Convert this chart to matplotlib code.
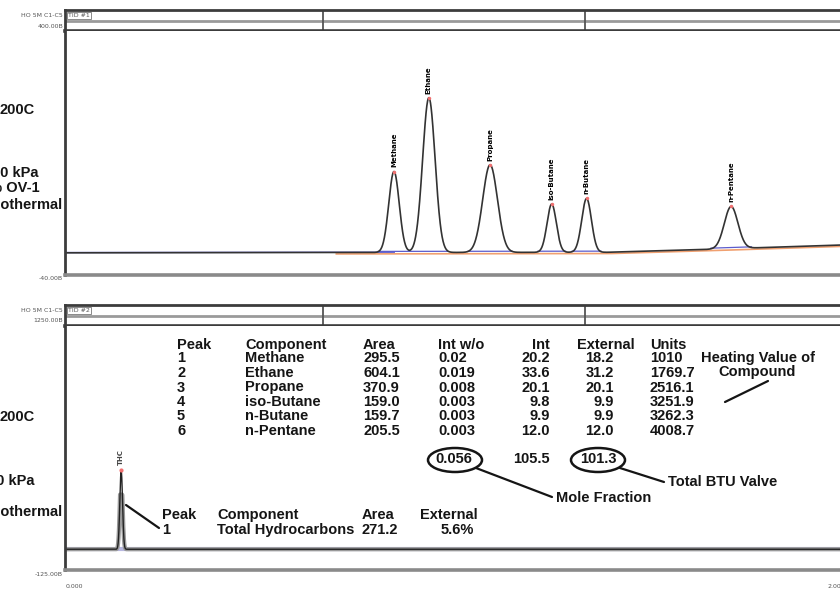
import numpy as np
import matplotlib
matplotlib.use("Agg")
from matplotlib import pyplot as plt
from matplotlib.lines import Line2D
from matplotlib.patches import Ellipse

W, H = 840, 590

# chromatogram #1 (C1-C5 peaks)
peak_names = ['Methane', 'Ethane', 'Propane', 'iso-Butane', 'n-Butane', 'n-Pentane']
peak_times = [0.849, 0.939, 1.097, 1.256, 1.346, 1.719]      # min
peak_heights = [146, 279, 158, 87, 97, 76]
peak_sigmas = [0.0135, 0.0160, 0.0190, 0.0120, 0.0125, 0.0175]
drift_t = [0.0, 1.40, 1.65, 2.0]
drift_level = [0, 1, 6, 14]

# chromatogram #2 (total hydrocarbons)
thc_time = 0.145
thc_height = 444
thc_sigma = 0.0035
thc_level = -8

# peak report
peak_ids = [1, 2, 3, 4, 5, 6]
areas = [295.5, 604.1, 370.9, 159.0, 159.7, 205.5]
int_wo = [0.02, 0.019, 0.008, 0.003, 0.003, 0.003]
int_vals = [20.2, 33.6, 20.1, 9.8, 9.9, 12.0]
external = [18.2, 31.2, 20.1, 9.9, 9.9, 12.0]
units = [1010, 1769.7, 2516.1, 3251.9, 3262.3, 4008.7]
mole_fraction = 0.056
int_total = 105.5
btu_total = 101.3
thc_area = 271.2
thc_external = '5.6%'

FONT = dict(family=['Liberation Sans', 'DejaVu Sans'], weight='bold', color='#151515')


def fx(x):
    return x / W


def fy(y):
    return 1 - y / H


def put(x, y, s, size=10.5, ha='left', **kw):
    opts = dict(FONT)
    opts.update(kw)
    fig.text(fx(x), fy(y), s, fontsize=size, ha=ha, va='center', **opts)


def line(x1, y1, x2, y2, lw=1.6):
    fig.add_artist(Line2D([fx(x1), fx(x2)], [fy(y1), fy(y2)], transform=fig.transFigure,
                          color='#151515', lw=lw, solid_capstyle='round'))


def panel(off, tid, ymin, ymax):
    # header strip
    hax = fig.add_axes([fx(65), fy(31 + off), 1 - fx(65), 21 / H])
    hax.set_xlim(0, 2.0)
    hax.set_ylim(0, 1)
    hax.set_xticks([])
    hax.set_yticks([])
    for side in ('top', 'bottom', 'left'):
        hax.spines[side].set_color('#3c3c3c')
        hax.spines[side].set_linewidth(2)
    hax.spines['bottom'].set_linewidth(2.6)
    hax.spines['right'].set_visible(False)
    hax.axhline(0.48, color='#9a9a9a', lw=2)
    for xv in (0.666, 1.342):
        hax.axvline(xv, color='#555555', lw=1.3)
    hax.text(0.004, 0.74, tid, transform=hax.transAxes, fontsize=4.5, color='#555555',
             va='center', bbox=dict(boxstyle='square,pad=0.15', fc='white', ec='#777777', lw=0.6))

    ax = fig.add_axes([fx(65), fy(275 + off), 1 - fx(65), (275 - 31) / H])
    ax.set_xlim(0, 2.0)
    ax.set_ylim(ymin, ymax)
    ax.set_xticks([])
    ax.set_yticks([])
    ax.spines['top'].set_visible(False)
    ax.spines['right'].set_visible(False)
    ax.spines['left'].set_color('#3c3c3c')
    ax.spines['left'].set_linewidth(2)
    ax.spines['bottom'].set_color('#8a8a8a')
    ax.spines['bottom'].set_linewidth(2.6)

    small = dict(fontsize=4.5, color='#555555', ha='right', va='center')
    fig.text(fx(63), fy(15.5 + off), 'HO 5M C1-C5', **small)
    fig.text(fx(63), fy(26 + off), '%.2fB' % ymax, **small)
    fig.text(fx(63), fy(279 + off), '%.2fB' % ymin, **small)
    return ax


fig = plt.figure(figsize=(W / 100, H / 100), dpi=100)
t = np.linspace(0, 2.0, 4000)

# ---- top chromatogram
ax1 = panel(0, 'TID #1', -40, 400)
base = np.interp(t, drift_t, drift_level)
trace = base.copy()
for tr, h, s in zip(peak_times, peak_heights, peak_sigmas):
    trace += h * np.exp(-0.5 * ((t - tr) / s) ** 2)
ax1.plot(t[t > 0.7], base[t > 0.7] - 2.5, color='#f0a070', lw=1.2)
ax1.plot(t[t < 0.85], base[t < 0.85] + 0.5, color='#5c5ccc', lw=1.0)
for tr, s in zip(peak_times, peak_sigmas):
    m = (t > tr - 3 * s) & (t < tr + 3 * s)
    ax1.plot(t[m], base[m] + 2, color='#5c5ccc', lw=0.9)
ax1.plot(t, trace, color='#333333', lw=1.2)
for name, tr, h in zip(peak_names, peak_times, peak_heights):
    top = h + np.interp(tr, drift_t, drift_level)
    ax1.plot(tr, top, 'o', ms=2.5, color='#f07070', mec='none')
    ax1.annotate(name, (tr, top), xytext=(0, 3), textcoords='offset points',
                 rotation=90, ha='center', va='bottom', fontsize=5, fontweight='bold')

# ---- bottom chromatogram
ax2 = panel(295, 'TID #2', -125, 1250)
thc = thc_level + thc_height * np.exp(-0.5 * ((t - thc_time) / thc_sigma) ** 2)
ax2.axhline(thc_level, color='#b8b8e0', lw=3)
ax2.plot(t, np.minimum(thc, 300), color='#9a9a9a', lw=3)
ax2.plot(t, thc, color='#222222', lw=1.0)
ax2.plot(thc_time, thc_level + thc_height, 'o', ms=3, color='#f07070', mec='none')
ax2.annotate('THC', (thc_time, thc_level + thc_height), xytext=(0, 4), textcoords='offset points',
             rotation=90, ha='center', va='bottom', fontsize=5, fontweight='bold', color='#444444')
fig.text(fx(66), fy(587), '0.000', fontsize=4.5, color='#555555', va='center')
fig.text(fx(827), fy(587), '2.000', fontsize=4.5, color='#555555', va='center')

# ---- method notes (cut at the left edge)
put(35, 110, '200C', ha='right')
put(38, 173, '50 kPa', ha='right')
put(40, 188, '5% OV-1', ha='right')
put(62, 205, 'Isothermal', ha='right')
put(35, 417, '200C', ha='right')
put(35, 481, '50 kPa', ha='right')
put(62, 512, 'Isothermal', ha='right')

# ---- peak report table
hdr_y = 345
put(177, hdr_y, 'Peak')
put(245, hdr_y, 'Component')
put(363, hdr_y, 'Area')
put(438, hdr_y, 'Int w/o')
put(550, hdr_y, 'Int', ha='right')
put(577, hdr_y, 'External')
put(650, hdr_y, 'Units')
for i in range(len(peak_ids)):
    y = 358.5 + i * 14.5
    put(177, y, str(peak_ids[i]))
    put(245, y, peak_names[i])
    put(363, y, str(areas[i]))
    put(438, y, str(int_wo[i]))
    put(550, y, str(int_vals[i]), ha='right')
    put(614, y, str(external[i]), ha='right')
    put(650, y, str(units[i]))
put(435, 459, str(mole_fraction))
put(550, 459, str(int_total), ha='right')
put(580, 459, str(btu_total))
for cx in (455, 598):
    fig.add_artist(Ellipse((fx(cx), fy(460)), 54 / W, 24 / H, transform=fig.transFigure,
                           fill=False, ec='#151515', lw=1.8))

# callouts
put(815, 358, 'Heating Value of', ha='right')
put(757, 372, 'Compound', ha='center')
line(725, 402, 768, 381)
line(476, 468, 552, 497)
put(556, 498, 'Mole Fraction')
line(620, 468, 664, 482)
put(668, 482, 'Total BTU Valve')

# THC report
line(126, 505, 159, 528)
put(162, 515, 'Peak')
put(162, 530, '1')
put(217, 515, 'Component')
put(217, 530, 'Total Hydrocarbons')
put(362, 515, 'Area')
put(362, 530, str(thc_area))
put(420, 515, 'External')
put(474, 530, thc_external, ha='right')

fig.savefig('out.png', dpi=100)
